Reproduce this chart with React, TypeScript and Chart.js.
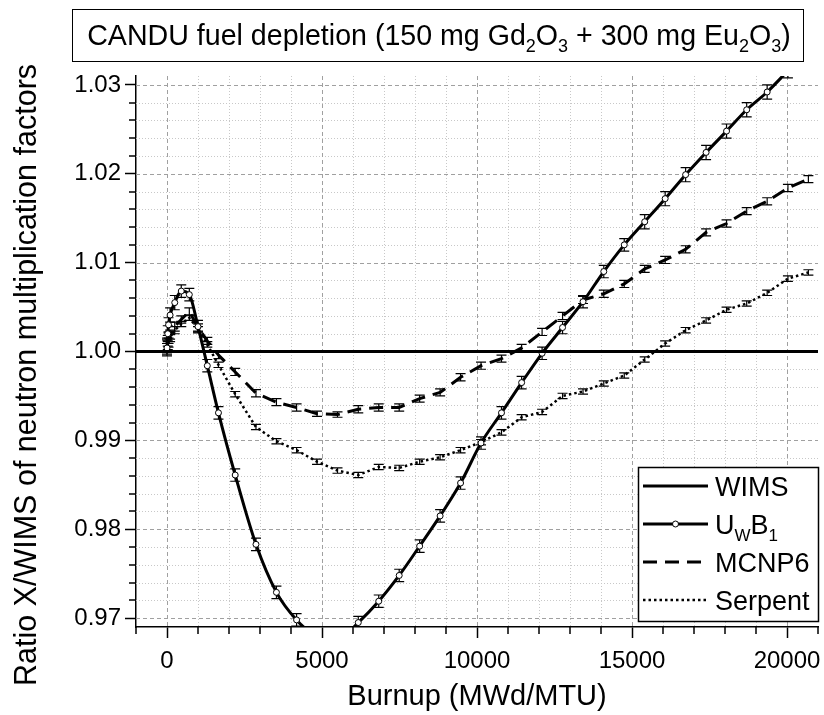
import React, { useEffect, useRef } from "react";
import { Chart, registerables } from "chart.js";

Chart.register(...registerables);

// ---- data ----
const burnup = [
  0, 25, 50, 100, 250, 460, 720, 1000, 1300, 1660, 2200, 2870, 3530, 4180, 4840, 5500, 6170, 6830,
  7490, 8150, 8810, 9470, 10130, 10790, 11440, 12100, 12760, 13420, 14090, 14750, 15410, 16070,
  16730, 17390, 18050, 18700, 19360, 20030, 20690,
];
const uwb1 = [
  1.0004, 1.002, 1.003, 1.0041, 1.0055, 1.0068, 1.0064, 1.0028, 0.9984, 0.9931, 0.9861, 0.9783,
  0.9729, 0.9698, 0.9679, 0.9675, 0.9695, 0.9719, 0.9748, 0.9781, 0.9815, 0.9852, 0.9897, 0.9931,
  0.9965, 0.9998, 1.0027, 1.0056, 1.009, 1.012, 1.0146, 1.0172, 1.0199, 1.0224, 1.0248, 1.0272,
  1.0292, 1.0316, 1.034,
];
const uwb1Err = [
  0.0009, 0.0009, 0.0008, 0.0008, 0.0008, 0.0007, 0.0007, 0.0007, 0.0007, 0.0007, 0.0007, 0.0007,
  0.0007, 0.0007, 0.0007, 0.0007, 0.0007, 0.0007, 0.0007, 0.0007, 0.0007, 0.0007, 0.0007, 0.0007,
  0.0007, 0.0007, 0.0007, 0.0007, 0.0007, 0.0007, 0.0008, 0.0008, 0.0008, 0.0008, 0.0008, 0.0008,
  0.0008, 0.0008, 0.0008,
];
const mcnp6 = [
  1.0008, 1.0012, 1.0015, 1.0019, 1.0028, 1.0036, 1.0045, 1.0027, 1.0012, 0.9996, 0.9977, 0.9953,
  0.9943, 0.9937, 0.993, 0.9929, 0.9935, 0.9937, 0.9937, 0.9947, 0.9954, 0.9971, 0.9984, 0.9992,
  1.0004, 1.0022, 1.004, 1.0058, 1.0065, 1.0076, 1.0093, 1.0103, 1.0115, 1.0134, 1.0144, 1.0158,
  1.0169, 1.0184, 1.0194,
];
const mcnp6Err = [
  0.0007, 0.0006, 0.0006, 0.0005, 0.0005, 0.0004, 0.0004, 0.0004, 0.0004, 0.0004, 0.0004, 0.0004,
  0.0004, 0.0004, 0.0003, 0.0003, 0.0004, 0.0004, 0.0004, 0.0004, 0.0004, 0.0004, 0.0004, 0.0004,
  0.0004, 0.0004, 0.0004, 0.0004, 0.0004, 0.0004, 0.0004, 0.0004, 0.0004, 0.0004, 0.0004, 0.0004,
  0.0004, 0.0004, 0.0004,
];
const serpent = [
  1.0003, 1.0007, 1.001, 1.0015, 1.0024, 1.0031, 1.0038, 1.0025, 1.0008, 0.9985, 0.9952, 0.9915,
  0.9899, 0.9889, 0.9876, 0.9866, 0.9861, 0.987, 0.9869, 0.9876, 0.9881, 0.9889, 0.9898, 0.9909,
  0.9926, 0.9932, 0.995, 0.9955, 0.9964, 0.9973, 0.9991, 1.0009, 1.0024, 1.0035, 1.0047, 1.0054,
  1.0066, 1.0082, 1.0089,
];
const serpentErr = [
  0.0006, 0.0005, 0.0005, 0.0004, 0.0004, 0.0003, 0.0003, 0.0003, 0.0003, 0.0003, 0.0003, 0.0003,
  0.0003, 0.0003, 0.0003, 0.0003, 0.0003, 0.0003, 0.0003, 0.0003, 0.0003, 0.0003, 0.0003, 0.0003,
  0.0003, 0.0003, 0.0003, 0.0003, 0.0003, 0.0003, 0.0003, 0.0003, 0.0003, 0.0003, 0.0003, 0.0003,
  0.0003, 0.0003, 0.0003,
];
const wimsX = [-1000, 21000];
const wimsY = [1.0, 1.0];

const xTicks = [0, 5000, 10000, 15000, 20000];
const yTicks = [0.97, 0.98, 0.99, 1.0, 1.01, 1.02, 1.03];
const xMinorTicks = [-1000, 1000, 2000, 3000, 4000, 6000, 7000, 8000, 9000, 11000, 12000, 13000, 14000, 16000, 17000, 18000, 19000, 21000];
const yMinorTicks = [0.972, 0.974, 0.976, 0.978, 0.982, 0.984, 0.986, 0.988, 0.992, 0.994, 0.996, 0.998, 1.002, 1.004, 1.006, 1.008, 1.012, 1.014, 1.016, 1.018, 1.022, 1.024, 1.026, 1.028];

const FONT = "'Liberation Sans', Arial, sans-serif";
const titleParts: [string, boolean][] = [
  ["CANDU fuel depletion (150 mg Gd", false],
  ["2", true],
  ["O", false],
  ["3", true],
  [" + 300 mg Eu", false],
  ["2", true],
  ["O", false],
  ["3", true],
  [")", false],
];
const yTitle = "Ratio X/WIMS of neutron multiplication factors";
const xTitle = "Burnup (MWd/MTU)";

const toPts = (xs: number[], ys: number[]) => xs.map((x, i) => ({ x, y: ys[i] }));

function drawRich(ctx: CanvasRenderingContext2D, parts: [string, boolean][], cx: number, baseline: number, size: number, subSize: number, subShift: number, align: "center" | "left") {
  const widths = parts.map(([t, sub]) => {
    ctx.font = `${sub ? subSize : size}px ${FONT}`;
    return ctx.measureText(t).width;
  });
  const total = widths.reduce((a, b) => a + b, 0);
  let x = align === "center" ? cx - total / 2 : cx;
  ctx.textAlign = "left";
  ctx.textBaseline = "alphabetic";
  parts.forEach(([t, sub], i) => {
    ctx.font = `${sub ? subSize : size}px ${FONT}`;
    ctx.fillText(t, x, baseline + (sub ? subShift : 0));
    x += widths[i];
  });
}

const gridPlugin = {
  id: "customGrid",
  beforeDatasetsDraw(chart: any) {
    const { ctx, chartArea, scales } = chart;
    const { left, right, top, bottom } = chartArea;
    const xs = scales.x, ys = scales.y;
    ctx.save();
    ctx.lineWidth = 1;
    ctx.strokeStyle = "#c8c8c8";
    ctx.setLineDash([1, 2]);
    xMinorTicks.forEach((v) => {
      const p = Math.round(xs.getPixelForValue(v)) + 0.5;
      if (p <= left + 1 || p >= right) return;
      ctx.beginPath(); ctx.moveTo(p, top); ctx.lineTo(p, bottom); ctx.stroke();
    });
    yMinorTicks.forEach((v) => {
      const p = Math.round(ys.getPixelForValue(v)) + 0.5;
      ctx.beginPath(); ctx.moveTo(left, p); ctx.lineTo(right, p); ctx.stroke();
    });
    ctx.strokeStyle = "#a0a0a0";
    ctx.setLineDash([4, 3]);
    xTicks.forEach((v) => {
      const p = Math.round(xs.getPixelForValue(v)) + 0.5;
      ctx.beginPath(); ctx.moveTo(p, top); ctx.lineTo(p, bottom); ctx.stroke();
    });
    yTicks.forEach((v) => {
      const p = Math.round(ys.getPixelForValue(v)) + 0.5;
      ctx.beginPath(); ctx.moveTo(left, p); ctx.lineTo(right, p); ctx.stroke();
    });
    ctx.restore();

    // error bars
    ctx.save();
    ctx.beginPath();
    ctx.rect(left, top, right - left, bottom - top);
    ctx.clip();
    ctx.strokeStyle = "#000";
    ctx.lineWidth = 1.2;
    ctx.setLineDash([]);
    chart.data.datasets.forEach((ds: any) => {
      if (!ds.errors) return;
      ds.data.forEach((pt: any, i: number) => {
        const e = ds.errors[i];
        const px = xs.getPixelForValue(pt.x);
        const y1 = ys.getPixelForValue(pt.y + e);
        const y2 = ys.getPixelForValue(pt.y - e);
        ctx.beginPath();
        ctx.moveTo(px, y1); ctx.lineTo(px, y2);
        ctx.moveTo(px - 5, y1); ctx.lineTo(px + 5, y1);
        ctx.moveTo(px - 5, y2); ctx.lineTo(px + 5, y2);
        ctx.stroke();
      });
    });
    ctx.restore();
  },
  afterDraw(chart: any) {
    const { ctx, chartArea, scales } = chart;
    const { left, bottom } = chartArea;
    const xs = scales.x, ys = scales.y;
    ctx.save();
    ctx.strokeStyle = "#000";
    ctx.lineWidth = 1.5;
    ctx.setLineDash([]);
    xMinorTicks.forEach((v) => {
      const p = Math.round(xs.getPixelForValue(v));
      ctx.beginPath(); ctx.moveTo(p, bottom); ctx.lineTo(p, bottom + 7); ctx.stroke();
    });
    yMinorTicks.forEach((v) => {
      const p = Math.round(ys.getPixelForValue(v));
      ctx.beginPath(); ctx.moveTo(left - 7, p); ctx.lineTo(left, p); ctx.stroke();
    });
    ctx.restore();

    // y axis title
    ctx.save();
    ctx.fillStyle = "#000";
    ctx.font = `30.5px ${FONT}`;
    ctx.textAlign = "center";
    ctx.textBaseline = "middle";
    ctx.translate(28, 375);
    ctx.rotate(-Math.PI / 2);
    ctx.fillText(yTitle, 0, 0);
    ctx.restore();

    // title box
    ctx.save();
    ctx.fillStyle = "#000";
    ctx.strokeStyle = "#000";
    ctx.lineWidth = 1;
    ctx.strokeRect(72.5, 9.5, 731, 52);
    drawRich(ctx, titleParts, 439, 45, 28.6, 18, 7, "center");
    ctx.restore();

    // legend
    ctx.save();
    ctx.fillStyle = "#fff";
    ctx.fillRect(638, 467, 181, 155);
    ctx.strokeStyle = "#000";
    ctx.lineWidth = 1.5;
    ctx.strokeRect(638.5, 467.5, 180, 154);
    const rows = [486, 524, 562, 600];
    const lx1 = 643, lx2 = 708, tx = 715;
    ctx.lineWidth = 3;
    // WIMS
    ctx.beginPath(); ctx.moveTo(lx1, rows[0]); ctx.lineTo(lx2, rows[0]); ctx.stroke();
    // UWB1
    ctx.beginPath(); ctx.moveTo(lx1, rows[1]); ctx.lineTo(lx2, rows[1]); ctx.stroke();
    ctx.lineWidth = 1;
    ctx.fillStyle = "#fff";
    ctx.beginPath(); ctx.arc((lx1 + lx2) / 2, rows[1], 3, 0, Math.PI * 2); ctx.fill(); ctx.stroke();
    // MCNP6
    ctx.lineWidth = 3;
    ctx.setLineDash([14, 8]);
    ctx.beginPath(); ctx.moveTo(lx1, rows[2]); ctx.lineTo(lx2, rows[2]); ctx.stroke();
    // Serpent
    ctx.setLineDash([2.5, 3]);
    ctx.lineWidth = 2.5;
    ctx.beginPath(); ctx.moveTo(lx1, rows[3]); ctx.lineTo(lx2, rows[3]); ctx.stroke();
    ctx.setLineDash([]);
    ctx.fillStyle = "#000";
    const fs = 27;
    const off = 9.5;
    drawRich(ctx, [["WIMS", false]], tx, rows[0] + off, fs, 17, 7, "left");
    drawRich(ctx, [["U", false], ["W", true], ["B", false], ["1", true]], tx, rows[1] + off, fs, 17, 7, "left");
    drawRich(ctx, [["MCNP6", false]], tx, rows[2] + off, fs, 17, 7, "left");
    drawRich(ctx, [["Serpent", false]], tx, rows[3] + off, fs, 17, 7, "left");
    ctx.restore();
  },
};

export default function App() {
  const ref = useRef<HTMLCanvasElement | null>(null);
  useEffect(() => {
    if (!ref.current) return;
    const chart = new Chart(ref.current, {
      type: "line",
      data: {
        datasets: [
          {
            label: "WIMS",
            data: toPts(wimsX, wimsY),
            borderColor: "#000",
            borderWidth: 3,
            pointRadius: 0,
            tension: 0,
          },
          {
            label: "UWB1",
            data: toPts(burnup, uwb1),
            errors: uwb1Err,
            borderColor: "#000",
            borderWidth: 3,
            cubicInterpolationMode: "monotone",
            pointRadius: 3,
            pointBackgroundColor: "#fff",
            pointBorderColor: "#000",
            pointBorderWidth: 1,
          } as any,
          {
            label: "MCNP6",
            data: toPts(burnup, mcnp6),
            errors: mcnp6Err,
            borderColor: "#000",
            borderWidth: 3,
            borderDash: [14, 8],
            pointRadius: 0,
            tension: 0,
          } as any,
          {
            label: "Serpent",
            data: toPts(burnup, serpent),
            errors: serpentErr,
            borderColor: "#000",
            borderWidth: 2.5,
            borderDash: [2.5, 3],
            pointRadius: 0,
            tension: 0,
          } as any,
        ],
      },
      options: {
        animation: false,
        responsive: true,
        maintainAspectRatio: false,
        layout: { padding: { top: 76, right: 6, left: 0, bottom: 0 } },
        plugins: { legend: { display: false }, title: { display: false }, tooltip: { enabled: false } },
        scales: {
          x: {
            type: "linear",
            min: -1000,
            max: 21000,
            afterBuildTicks: (axis: any) => {
              axis.ticks = xTicks.map((v) => ({ value: v }));
            },
            afterFit: (s: any) => {
              s.height = 88;
              s.paddingLeft = 0;
              s.paddingRight = 0;
            },
            ticks: {
              color: "#000",
              font: { size: 24, family: FONT },
              padding: 9,
              maxRotation: 0,
              autoSkip: false,
              callback: (v: any) => String(v),
            },
            grid: { drawOnChartArea: false, drawTicks: true, tickLength: 11, tickColor: "#000", tickWidth: 1.5 },
            border: { display: true, color: "#000", width: 1.5 },
            title: { display: true, text: xTitle, color: "#000", font: { size: 29, family: FONT }, padding: { top: 0, bottom: 1 } },
          },
          y: {
            type: "linear",
            min: 0.969,
            max: 1.031,
            afterBuildTicks: (axis: any) => {
              axis.ticks = yTicks.map((v) => ({ value: v }));
            },
            afterFit: (s: any) => {
              s.width = 136;
              s.paddingTop = 0;
              s.paddingBottom = 0;
            },
            ticks: {
              color: "#000",
              font: { size: 24, family: FONT },
              padding: 4,
              autoSkip: false,
              callback: (v: any) => Number(v).toFixed(2),
            },
            grid: { drawOnChartArea: false, drawTicks: true, tickLength: 11, tickColor: "#000", tickWidth: 1.5 },
            border: { display: true, color: "#000", width: 1.5 },
          },
        },
      },
      plugins: [gridPlugin],
    });
    return () => chart.destroy();
  }, []);
  return (
    <div style={{ position: "fixed", left: 0, top: 0, width: 824, height: 715, background: "#fff" }}>
      <canvas ref={ref} />
    </div>
  );
}
